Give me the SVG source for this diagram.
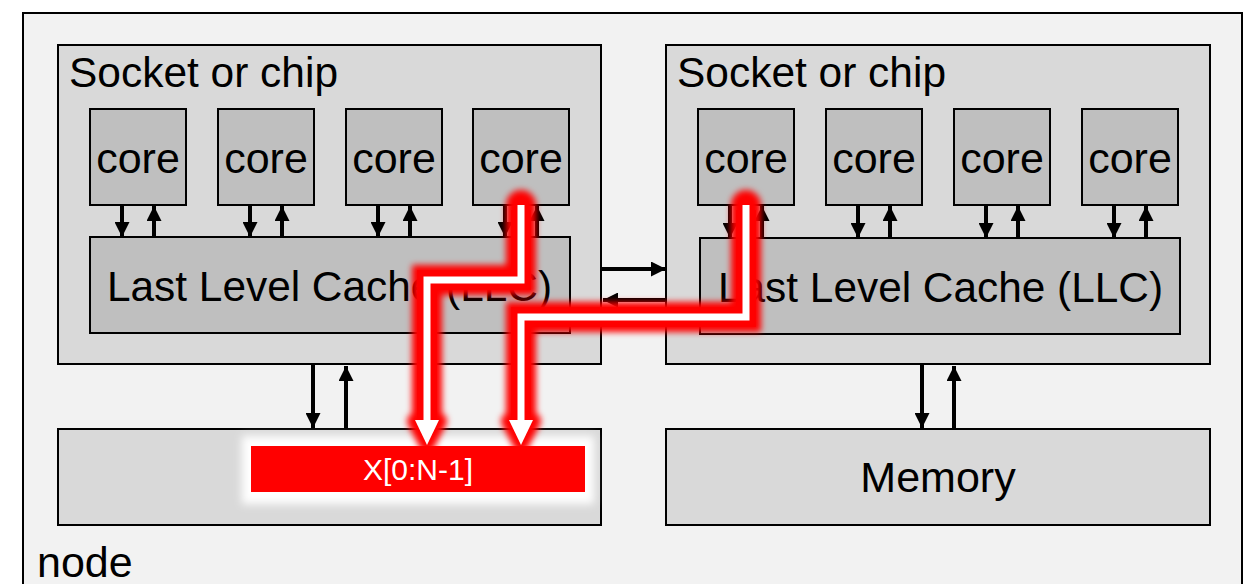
<svg xmlns="http://www.w3.org/2000/svg" width="1249" height="584" viewBox="0 0 1249 584">
  <style>
    .box { stroke: #000; stroke-width: 2; }
    .outer { fill: #f2f2f2; }
    .sock { fill: #d9d9d9; }
    .core { fill: #bfbfbf; }
    .t { font-family: "Liberation Sans", Arial, sans-serif; fill: #000; }
    .big { font-size: 43px; }
    .arr { stroke: #000; stroke-width: 4; fill: none; marker-end: url(#ah); }
  </style>
  <defs>
    <marker id="ah" markerUnits="userSpaceOnUse" markerWidth="15" markerHeight="15" refX="15" refY="7.5" orient="auto">
      <path d="M0,0 L15,7.5 L0,15 z" fill="#000"/>
    </marker>
    <filter id="glow" filterUnits="userSpaceOnUse" x="0" y="150" width="900" height="350">
      <feGaussianBlur stdDeviation="3"/>
    </filter>
    <filter id="wglow" filterUnits="userSpaceOnUse" x="200" y="400" width="440" height="140">
      <feGaussianBlur stdDeviation="4"/>
    </filter>
  </defs>

  <g id="node">
    <rect class="box outer" x="23" y="13" width="1219" height="600"/>
    <text class="t big" x="37" y="577">node</text>
  </g>

  <g id="socket-left">
    <rect class="box sock" x="58" y="45" width="543" height="319"/>
    <text class="t big" x="69" y="87" textLength="269" lengthAdjust="spacingAndGlyphs">Socket or chip</text>
  </g>
  <g id="socket-right">
    <rect class="box sock" x="666" y="45" width="544" height="319"/>
    <text class="t big" x="677" y="87" textLength="269" lengthAdjust="spacingAndGlyphs">Socket or chip</text>
  </g>

  <g id="core-l1"><rect class="box core" x="90" y="109" width="96" height="96"/><text class="t big" x="138" y="173" text-anchor="middle">core</text></g>
  <g id="core-l2"><rect class="box core" x="218" y="109" width="96" height="96"/><text class="t big" x="266" y="173" text-anchor="middle">core</text></g>
  <g id="core-l3"><rect class="box core" x="346" y="109" width="96" height="96"/><text class="t big" x="394" y="173" text-anchor="middle">core</text></g>
  <g id="core-l4"><rect class="box core" x="473" y="109" width="96" height="96"/><text class="t big" x="521" y="173" text-anchor="middle">core</text></g>

  <g id="core-r1"><rect class="box core" x="698" y="109" width="96" height="96"/><text class="t big" x="746" y="173" text-anchor="middle">core</text></g>
  <g id="core-r2"><rect class="box core" x="826" y="109" width="96" height="96"/><text class="t big" x="874" y="173" text-anchor="middle">core</text></g>
  <g id="core-r3"><rect class="box core" x="954" y="109" width="96" height="96"/><text class="t big" x="1002" y="173" text-anchor="middle">core</text></g>
  <g id="core-r4"><rect class="box core" x="1082" y="109" width="96" height="96"/><text class="t big" x="1130" y="173" text-anchor="middle">core</text></g>

  <g id="llc-left">
    <rect class="box core" x="90" y="237" width="480" height="96"/>
    <text class="t big" x="107" y="301" textLength="445" lengthAdjust="spacingAndGlyphs">Last Level Cache (LLC)</text>
  </g>
  <g id="llc-right">
    <rect class="box core" x="700" y="238" width="480" height="96" stroke="#333"/>
    <text class="t big" x="718" y="302" textLength="445" lengthAdjust="spacingAndGlyphs">Last Level Cache (LLC)</text>
  </g>

  <g id="memory-left">
    <rect class="box sock" x="58" y="429" width="543" height="96"/>
  </g>
  <g id="memory-right">
    <rect class="box sock" x="666" y="429" width="544" height="96"/>
    <text class="t big" x="938" y="492" text-anchor="middle">Memory</text>
  </g>

  <g id="connectors">
    <!-- core <-> LLC, left socket -->
    <line class="arr" x1="122" y1="205" x2="122" y2="237"/>
    <line class="arr" x1="154" y1="237" x2="154" y2="206"/>
    <line class="arr" x1="250" y1="205" x2="250" y2="237"/>
    <line class="arr" x1="282" y1="237" x2="282" y2="206"/>
    <line class="arr" x1="378" y1="205" x2="378" y2="237"/>
    <line class="arr" x1="410" y1="237" x2="410" y2="206"/>
    <line class="arr" x1="505" y1="205" x2="505" y2="237"/>
    <line class="arr" x1="537" y1="237" x2="537" y2="206"/>
    <!-- core <-> LLC, right socket -->
    <line class="arr" x1="730" y1="205" x2="730" y2="238"/>
    <line class="arr" x1="762" y1="238" x2="762" y2="206"/>
    <line class="arr" x1="858" y1="205" x2="858" y2="238"/>
    <line class="arr" x1="890" y1="238" x2="890" y2="206"/>
    <line class="arr" x1="986" y1="205" x2="986" y2="238"/>
    <line class="arr" x1="1018" y1="238" x2="1018" y2="206"/>
    <line class="arr" x1="1114" y1="205" x2="1114" y2="238"/>
    <line class="arr" x1="1146" y1="238" x2="1146" y2="206"/>
    <!-- socket <-> socket -->
    <line class="arr" x1="602" y1="269" x2="666" y2="269"/>
    <line class="arr" x1="666" y1="300" x2="603" y2="300"/>
    <!-- socket <-> memory -->
    <line class="arr" x1="313" y1="365" x2="313" y2="428"/>
    <line class="arr" x1="346" y1="429" x2="346" y2="366"/>
    <line class="arr" x1="922" y1="365" x2="922" y2="428"/>
    <line class="arr" x1="954" y1="429" x2="954" y2="366"/>
  </g>

  <g id="data-x">
    <rect x="242" y="436" width="352" height="68" fill="#fff" filter="url(#wglow)"/>
    <rect x="251" y="446" width="334" height="46" fill="#ff0000"/>
    <text class="t" x="418" y="480" font-size="30" style="fill:#fff" text-anchor="middle">X[0:N-1]</text>
  </g>

  <g id="access-paths">
    <g filter="url(#glow)" fill="none" stroke="#ff0000" stroke-width="30" stroke-linecap="round">
      <path d="M521 205 V280 H427 V421"/>
      <path d="M746 205 V317 H521 V421"/>
      <polygon points="415,421 439,421 427,444" fill="#ff0000" stroke-width="16" stroke-linejoin="round"/>
      <polygon points="509,421 533,421 521,444" fill="#ff0000" stroke-width="16" stroke-linejoin="round"/>
    </g>
    <g fill="none" stroke="#ff0000" stroke-width="20" opacity="0.85">
      <path d="M521 210 V280 H427 V421"/>
      <path d="M746 210 V317 H521 V421"/>
    </g>
    <g fill="none" stroke="#fff" stroke-width="7">
      <path d="M521 205 V280 H427 V421"/>
      <path d="M746 205 V317 H521 V421"/>
    </g>
    <polygon points="415,420 439,420 427,445" fill="#fff"/>
    <polygon points="509,420 533,420 521,445" fill="#fff"/>
  </g>
</svg>
